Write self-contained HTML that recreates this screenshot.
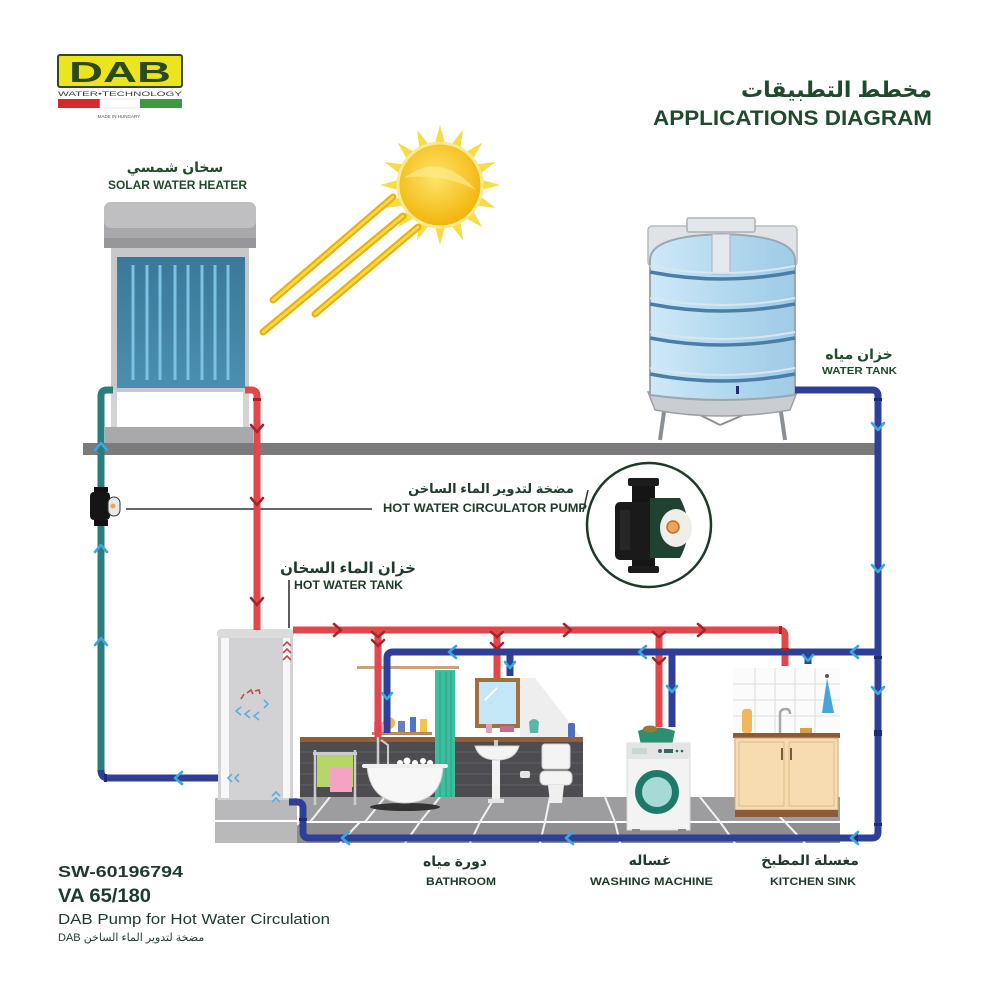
<!DOCTYPE html>
<html><head><meta charset="utf-8">
<style>
html,body{margin:0;padding:0;background:#fff;}
svg{display:block;}
text{font-family:"Liberation Sans","DejaVu Sans",sans-serif;}
.ar{font-weight:bold;}
</style></head><body>
<svg width="1000" height="1000" viewBox="0 0 1000 1000" xmlns="http://www.w3.org/2000/svg">
<defs>
<radialGradient id="sunG" cx="0.45" cy="0.4" r="0.6">
<stop offset="0" stop-color="#fde66a"/><stop offset="1" stop-color="#f2b30a"/>
</radialGradient>
<linearGradient id="panelG" x1="0" y1="0" x2="0" y2="1">
<stop offset="0" stop-color="#3a7898"/><stop offset="1" stop-color="#4b8fb0"/>
</linearGradient>
<linearGradient id="tankG" x1="0" y1="0" x2="1" y2="0">
<stop offset="0" stop-color="#cfe9f7"/><stop offset="0.5" stop-color="#b3d9ef"/><stop offset="1" stop-color="#9fcbe6"/>
</linearGradient>
</defs>
<rect width="1000" height="1000" fill="#fff"/>

<!-- DAB logo -->
<rect x="58" y="55" width="124" height="32" rx="2" fill="#ece51d" stroke="#2f4a23" stroke-width="2"/>
<text x="120" y="82" font-size="29" font-weight="900" text-anchor="middle" fill="#2b4a1d" textLength="102" lengthAdjust="spacingAndGlyphs">DAB</text>
<text x="58" y="96" font-size="6.5" fill="#3a3a3a" textLength="124" lengthAdjust="spacingAndGlyphs">WATER•TECHNOLOGY</text>
<rect x="58" y="99" width="42" height="9" fill="#d7282f"/>
<rect x="100" y="99" width="40" height="9" fill="#fff" stroke="#ddd" stroke-width="0.6"/>
<rect x="140" y="99" width="42" height="9" fill="#3c9a45"/>
<text x="119" y="118" font-size="4.5" fill="#555" text-anchor="middle">MADE IN HUNGARY</text>

<!-- Title -->
<text class="ar" x="932" y="97" font-size="22" fill="#1f4a2c" text-anchor="end">مخطط التطبيقات</text>
<text x="653" y="125" font-size="21" font-weight="bold" fill="#1f4a2c" textLength="279" lengthAdjust="spacingAndGlyphs">APPLICATIONS DIAGRAM</text>

<!-- Solar label -->
<text class="ar" x="175" y="172" font-size="14" fill="#1f4a2c" text-anchor="middle">سخان شمسي</text>
<text x="108" y="189" font-size="12" font-weight="bold" fill="#1f4a2c" textLength="139" lengthAdjust="spacingAndGlyphs">SOLAR WATER HEATER</text>

<!-- Sun -->
<g fill="#f7dc45">
<polygon points="434,147 446,147 440,125" transform="rotate(0 440 185)"/>
<polygon points="434,147 446,147 440,125" transform="rotate(22.5 440 185)"/>
<polygon points="434,147 446,147 440,125" transform="rotate(45 440 185)"/>
<polygon points="434,147 446,147 440,125" transform="rotate(67.5 440 185)"/>
<polygon points="434,147 446,147 440,125" transform="rotate(90 440 185)"/>
<polygon points="434,147 446,147 440,125" transform="rotate(112.5 440 185)"/>
<polygon points="434,147 446,147 440,125" transform="rotate(135 440 185)"/>
<polygon points="434,147 446,147 440,125" transform="rotate(157.5 440 185)"/>
<polygon points="434,147 446,147 440,125" transform="rotate(180 440 185)"/>
<polygon points="434,147 446,147 440,125" transform="rotate(202.5 440 185)"/>
<polygon points="434,147 446,147 440,125" transform="rotate(225 440 185)"/>
<polygon points="434,147 446,147 440,125" transform="rotate(247.5 440 185)"/>
<polygon points="434,147 446,147 440,125" transform="rotate(270 440 185)"/>
<polygon points="434,147 446,147 440,125" transform="rotate(292.5 440 185)"/>
<polygon points="434,147 446,147 440,125" transform="rotate(315 440 185)"/>
<polygon points="434,147 446,147 440,125" transform="rotate(337.5 440 185)"/>
</g>
<g stroke-linecap="round">
<line x1="273" y1="300" x2="393" y2="197" stroke="#eab20c" stroke-width="7"/>
<line x1="263" y1="332" x2="403" y2="216" stroke="#eab20c" stroke-width="7"/>
<line x1="315" y1="314" x2="418" y2="227" stroke="#eab20c" stroke-width="7"/>
<line x1="273" y1="300" x2="393" y2="197" stroke="#f9d94e" stroke-width="2.5"/>
<line x1="263" y1="332" x2="403" y2="216" stroke="#f9d94e" stroke-width="2.5"/>
<line x1="315" y1="314" x2="418" y2="227" stroke="#f9d94e" stroke-width="2.5"/>
</g>
<circle cx="440" cy="185" r="42" fill="url(#sunG)" stroke="#fbe98e" stroke-width="3"/>
<path d="M404,178 Q440,150 476,190 Q440,172 404,178 Z" fill="#fde98a" opacity="0.7"/>

<!-- Solar heater -->
<rect x="111" y="244" width="138" height="148" fill="#c8c8ca"/>
<rect x="117" y="257" width="128" height="131" fill="url(#panelG)"/>
<g stroke="#7cc2e4" stroke-width="3">
<line x1="133" y1="265" x2="133" y2="380"/><line x1="147" y1="265" x2="147" y2="380"/>
<line x1="160" y1="265" x2="160" y2="380"/><line x1="175" y1="265" x2="175" y2="380"/>
<line x1="188" y1="265" x2="188" y2="380"/><line x1="202" y1="265" x2="202" y2="380"/>
<line x1="215" y1="265" x2="215" y2="380"/><line x1="228" y1="265" x2="228" y2="380"/>
</g>
<rect x="104" y="202" width="152" height="46" rx="7" fill="#a8a8aa"/>
<rect x="104" y="202" width="152" height="26" rx="7" fill="#bfbfc1"/>
<rect x="104" y="238" width="152" height="10" fill="#96969a"/>
<rect x="111" y="390" width="6" height="38" fill="#d4d4d6"/>
<rect x="243" y="390" width="6" height="38" fill="#d4d4d6"/>
<rect x="105" y="427" width="148" height="16" fill="#a9a9ab"/>

<!-- Water tank -->
<rect x="648" y="226" width="149" height="40" rx="4" fill="#dfe2e6" stroke="#b5bbc2" stroke-width="1.5"/>
<rect x="687" y="218" width="68" height="14" rx="2" fill="#e4e7ea" stroke="#a9b0b7" stroke-width="1.5"/>
<line x1="665" y1="405" x2="660" y2="440" stroke="#8a8f95" stroke-width="4"/>
<line x1="780" y1="405" x2="785" y2="440" stroke="#8a8f95" stroke-width="4"/>
<line x1="690" y1="410" x2="720" y2="425" stroke="#8a8f95" stroke-width="2"/>
<line x1="755" y1="410" x2="720" y2="425" stroke="#8a8f95" stroke-width="2"/>
<path d="M648,392 L797,392 L790,410 Q720,422 655,410 Z" fill="#c9cdd2" stroke="#9aa1a8" stroke-width="1.5"/>
<path d="M650,260 Q650,236 722,234 Q795,236 795,260 L795,395 Q722,405 650,395 Z" fill="url(#tankG)" stroke="#9aa6b0" stroke-width="2"/>
<rect x="712" y="234" width="18" height="40" fill="#e4e8ec" stroke="#aab2ba" stroke-width="1"/>
<g fill="none" stroke="#4a7ea8" stroke-width="3.5">
<path d="M650,272 Q722,286 795,272"/>
<path d="M650,304 Q722,318 795,304"/>
<path d="M650,338 Q722,352 795,338"/>
<path d="M650,374 Q722,388 795,374"/>
</g>
<g fill="none" stroke="#d7e6ef" stroke-width="2">
<path d="M650,266 Q722,280 795,266"/>
<path d="M650,298 Q722,312 795,298"/>
<path d="M650,332 Q722,346 795,332"/>
<path d="M650,368 Q722,382 795,368"/>
</g>
<text class="ar" x="859" y="359" font-size="14" fill="#1f4a2c" text-anchor="middle">خزان مياه</text>
<text x="822" y="374" font-size="10.5" font-weight="bold" fill="#1f4a2c" textLength="75" lengthAdjust="spacingAndGlyphs">WATER TANK</text>

<!-- Pump label -->
<text class="ar" x="491" y="493" font-size="13" fill="#1f3a2a" text-anchor="middle">مضخة لتدوير الماء الساخن</text>
<text x="383" y="512" font-size="12" font-weight="bold" fill="#1f3a2a" textLength="204" lengthAdjust="spacingAndGlyphs">HOT WATER CIRCULATOR PUMP</text>
<line x1="126" y1="509" x2="372" y2="509" stroke="#333" stroke-width="1.6"/>
<line x1="588" y1="490" x2="583" y2="512" stroke="#1d3a26" stroke-width="1.5"/>

<!-- Pump circle -->
<circle cx="649" cy="525" r="62" fill="#fff" stroke="#1d3a26" stroke-width="2.5"/>
<rect x="632" y="478" width="23" height="28" rx="3" fill="#151515"/>
<rect x="628" y="478" width="31" height="8" rx="2" fill="#1c1c1c"/>
<rect x="632" y="556" width="23" height="16" rx="3" fill="#151515"/>
<rect x="628" y="566" width="31" height="7" rx="2" fill="#1c1c1c"/>
<rect x="615" y="502" width="40" height="58" rx="5" fill="#1a1a1a"/>
<rect x="620" y="510" width="10" height="40" fill="#262626"/>
<path d="M650,498 L680,498 Q696,528 680,558 L650,558 Z" fill="#1f4232"/>
<ellipse cx="676" cy="528" rx="16" ry="19" fill="#efefea"/>
<circle cx="673" cy="527" r="6" fill="#f0a35a" stroke="#c66d22" stroke-width="1.5"/>

<!-- Hot water tank label -->
<text class="ar" x="348" y="573" font-size="15" fill="#1f3a2a" text-anchor="middle">خزان الماء السخان</text>
<text x="294" y="589" font-size="11.5" font-weight="bold" fill="#1f3a2a" textLength="109" lengthAdjust="spacingAndGlyphs">HOT WATER TANK</text>
<line x1="289" y1="580" x2="289" y2="628" stroke="#333" stroke-width="1.6"/>

<!-- Floor -->
<rect x="300" y="797" width="540" height="25" fill="#9d9da0"/>
<rect x="215" y="822" width="625" height="21" fill="#8e8e91"/>
<line x1="215" y1="822" x2="840" y2="822" stroke="#fff" stroke-width="2"/>
<g stroke="#f2f2f2" stroke-width="2">
<line x1="330" y1="797" x2="310" y2="822"/><line x1="385" y1="797" x2="365" y2="822"/>
<line x1="440" y1="797" x2="420" y2="822"/><line x1="495" y1="797" x2="480" y2="822"/>
<line x1="550" y1="797" x2="545" y2="822"/><line x1="605" y1="797" x2="615" y2="822"/>
<line x1="700" y1="797" x2="720" y2="822"/><line x1="760" y1="797" x2="785" y2="822"/>
<line x1="300" y1="822" x2="275" y2="843"/><line x1="360" y1="822" x2="340" y2="843"/>
<line x1="420" y1="822" x2="405" y2="843"/><line x1="480" y1="822" x2="470" y2="843"/>
<line x1="545" y1="822" x2="540" y2="843"/><line x1="615" y1="822" x2="620" y2="843"/>
<line x1="720" y1="822" x2="735" y2="843"/><line x1="785" y1="822" x2="805" y2="843"/>
</g>

<!-- Hot water tank -->
<rect x="215" y="798" width="82" height="45" fill="#b9b9bc"/>
<rect x="215" y="820" width="82" height="2" fill="#fff"/>
<rect x="218" y="636" width="75" height="164" fill="#d2d2d4"/>
<rect x="221" y="638" width="8" height="160" fill="#f7f7f7"/>
<rect x="283" y="638" width="7" height="160" fill="#f7f7f7"/>
<rect x="217" y="629" width="77" height="9" rx="4" fill="#dcdcdd"/>
<g fill="none" stroke="#c4474d" stroke-width="1.6">
<path d="M283,646 L287,642 L291,646"/><path d="M283,653 L287,649 L291,653"/><path d="M283,660 L287,656 L291,660"/>
<path d="M241,699 L244,694"/><path d="M247,693 L251,690 L253,694"/><path d="M255,691 L259,690 L260,694"/>
</g>
<g fill="none" stroke="#5aaee0" stroke-width="1.6">
<path d="M241,707 L236,711 L241,715"/><path d="M250,710 L245,714 L250,718"/><path d="M259,712 L254,716 L259,720"/>
<path d="M264,700 L268,704 L264,708"/>
<path d="M232,774 L228,778 L232,782"/><path d="M239,774 L235,778 L239,782"/>
<path d="M272,796 L276,792 L280,796"/><path d="M272,802 L276,798 L280,802"/>
</g>

<!-- Bathroom wall -->
<polygon points="520,678 535,678 583,740 520,740" fill="#eeeeee"/>
<rect x="300" y="742" width="283" height="55" fill="#4c4c51"/>
<g stroke="#5f5f65" stroke-width="1">
<line x1="300" y1="752" x2="583" y2="752"/><line x1="300" y1="763" x2="583" y2="763"/>
<line x1="300" y1="774" x2="583" y2="774"/><line x1="300" y1="785" x2="583" y2="785"/>
</g>
<rect x="300" y="737" width="283" height="5" fill="#8f5e3d"/>
<!-- shelf & bottles -->
<rect x="372" y="732" width="60" height="3" fill="#b88a5c"/>
<rect x="374" y="722" width="9" height="10" fill="#f2a0c0"/>
<circle cx="389" cy="723" r="6" fill="#f3b34a"/>
<rect x="398" y="721" width="7" height="11" fill="#6a7fb8"/>
<rect x="410" y="717" width="6" height="15" fill="#4b78c4"/>
<rect x="420" y="719" width="7" height="13" fill="#f2c64e"/>
<!-- curtain rod & curtain -->
<rect x="357" y="666" width="102" height="3" fill="#c8a27a"/>
<rect x="435" y="670" width="20" height="127" fill="#3bbf9e"/>
<g stroke="#2c9c80" stroke-width="1"><line x1="440" y1="672" x2="440" y2="797"/><line x1="446" y1="672" x2="446" y2="797"/><line x1="451" y1="672" x2="451" y2="797"/></g>
<!-- mirror -->
<rect x="475" y="678" width="45" height="50" fill="#a36f3a"/>
<rect x="479" y="682" width="37" height="42" fill="#c3e7f6"/>
<line x1="485" y1="700" x2="497" y2="688" stroke="#fff" stroke-width="2"/>
<rect x="486" y="724" width="6" height="9" fill="#e0a0c0"/>
<rect x="500" y="726" width="14" height="6" fill="#c86a8a"/>
<path d="M530,733 L529,722 Q534,716 539,722 L538,733 Z" fill="#58b7a6"/>
<rect x="568" y="723" width="7" height="15" rx="2" fill="#4d6fbf"/>
<!-- towel rack -->
<rect x="313" y="752" width="44" height="3" fill="#ccc"/>
<line x1="315" y1="750" x2="315" y2="805" stroke="#ccc" stroke-width="2.5"/>
<line x1="355" y1="750" x2="355" y2="805" stroke="#ccc" stroke-width="2.5"/>
<rect x="317" y="755" width="36" height="32" fill="#b7d66a"/>
<rect x="330" y="768" width="22" height="24" fill="#f4a3c4"/>
<!-- bathtub -->
<line x1="378" y1="737" x2="378" y2="768" stroke="#ccc" stroke-width="2.5"/>
<path d="M381,740 L388,745 L388,768" fill="none" stroke="#ccc" stroke-width="2"/>
<g fill="#fff"><circle cx="400" cy="763" r="3"/><circle cx="407" cy="761" r="3.5"/><circle cx="415" cy="763" r="3"/><circle cx="423" cy="761" r="3"/><circle cx="430" cy="763" r="3"/></g>
<ellipse cx="405" cy="807" rx="35" ry="4" fill="#333"/>
<path d="M367,766 L443,766 Q442,802 405,803 Q370,802 367,766 Z" fill="#f7f7f7" stroke="#cfcfcf" stroke-width="1"/>
<rect x="362" y="764" width="86" height="4" rx="2" fill="#efefef"/>
<!-- sink -->
<rect x="492" y="755" width="8" height="46" fill="#f2f2f2"/>
<rect x="488" y="799" width="16" height="4" fill="#e5e5e5"/>
<path d="M475,746 L519,746 Q515,760 497,760 Q479,760 475,746 Z" fill="#f4f4f4" stroke="#cfcfcf" stroke-width="1"/>
<rect x="494" y="740" width="4" height="6" fill="#ccc"/>
<rect x="520" y="771" width="10" height="7" rx="2" fill="#e5e5e5"/>
<!-- toilet -->
<rect x="542" y="744" width="28" height="25" rx="3" fill="#f4f4f4" stroke="#cfcfcf" stroke-width="1"/>
<rect x="540" y="771" width="32" height="14" rx="5" fill="#f4f4f4" stroke="#cfcfcf" stroke-width="1"/>
<path d="M548,785 L564,785 L562,803 L550,803 Z" fill="#efefef"/>

<!-- Washing machine -->
<path d="M638,731 Q656,724 675,731 L672,745 L641,745 Z" fill="#2c8e72"/>
<ellipse cx="650" cy="729" rx="7" ry="3.5" fill="#9a7a3a"/>
<rect x="627" y="743" width="63" height="87" fill="#f3f3f3" stroke="#d8d8d8" stroke-width="1"/>
<rect x="627" y="743" width="63" height="16" fill="#e4e4e4"/>
<rect x="632" y="748" width="15" height="6" fill="#c8d6d4"/>
<circle cx="660" cy="751" r="2" fill="#2c6a62"/>
<rect x="664" y="749" width="9" height="4" fill="#2c6a62"/>
<circle cx="677" cy="751" r="1.3" fill="#2c6a62"/><circle cx="682" cy="751" r="1.3" fill="#2c6a62"/>
<circle cx="657" cy="792" r="22" fill="#1e7a68"/>
<circle cx="657" cy="792" r="15" fill="#a7dad6"/>
<rect x="632" y="829" width="8" height="3" fill="#888"/><rect x="678" y="829" width="8" height="3" fill="#888"/>

<!-- Kitchen -->
<rect x="733" y="668" width="107" height="66" fill="#fbfbfb"/>
<g stroke="#d8dde0" stroke-width="1">
<line x1="755" y1="668" x2="755" y2="734"/><line x1="775" y1="668" x2="775" y2="734"/>
<line x1="795" y1="668" x2="795" y2="734"/><line x1="815" y1="668" x2="815" y2="734"/>
<line x1="733" y1="684" x2="840" y2="684"/><line x1="733" y1="700" x2="840" y2="700"/><line x1="733" y1="716" x2="840" y2="716"/>
</g>
<path d="M780,733 L780,714 Q780,709 786,709 Q790,709 790,714" fill="none" stroke="#a8a8a8" stroke-width="2.5"/>
<rect x="742" y="709" width="10" height="24" rx="3" fill="#f0b85a"/>
<rect x="800" y="728" width="12" height="5" fill="#d6a04a"/>
<circle cx="827" cy="676" r="2" fill="#555"/>
<path d="M827,678 L822,713 L834,713 Z" fill="#45a6d8"/>
<rect x="733" y="733" width="107" height="5" fill="#8b5a3c"/>
<rect x="735" y="738" width="103" height="72" fill="#f6dcb0" stroke="#caa77a" stroke-width="1"/>
<rect x="739" y="742" width="45" height="64" fill="none" stroke="#dcbc8c" stroke-width="1"/>
<rect x="789" y="742" width="45" height="64" fill="none" stroke="#dcbc8c" stroke-width="1"/>
<rect x="781" y="748" width="2" height="12" fill="#7a5a3a"/><rect x="790" y="748" width="2" height="12" fill="#7a5a3a"/>
<rect x="735" y="810" width="103" height="7" fill="#8d5a3a"/>

<!-- Gray floor bar -->
<rect x="83" y="443" width="792" height="12" fill="#7b7b7d"/>

<!-- Pipes -->
<g fill="none" stroke-width="7" stroke-linejoin="round">
<path d="M245,390 H251 Q257,390 257,396 V630" stroke="#e2474c"/>
<path d="M293,630 H779 Q785,630 785,636 V666" stroke="#e2474c"/>
<path d="M378,630 V737 M497,630 V678 M659,630 V727" stroke="#e2474c"/>
<path d="M795,390 H872 Q878,390 878,396 V832 Q878,838 872,838 H309 Q303,838 303,832 V808 Q303,802 297,802 H289" stroke="#2f3f98"/>
<path d="M878,652 H393 Q387,652 387,658 V733" stroke="#2f3f98"/>
<path d="M510,652 V676 M672,652 V727 M808,652 V664" stroke="#2f3f98"/>
<path d="M113,390 H107 Q101,390 101,396 V772" stroke="#2c7b7d"/>
<path d="M101,770 Q101,778 108,778 H218" stroke="#2f3f98"/>
</g>
<g fill="#1f2d70">
<rect x="736" y="386" width="3" height="8"/><rect x="874" y="398" width="8" height="3"/>
<rect x="874" y="823" width="8" height="3"/><rect x="855" y="834" width="3" height="8"/>
<rect x="299" y="818" width="8" height="3"/><rect x="104" y="774" width="3" height="8"/>
<rect x="874" y="656" width="8" height="3"/><rect x="874" y="730" width="8" height="6"/>
</g>
<g fill="#a3262c"><rect x="779" y="626" width="3" height="8"/><rect x="781" y="648" width="8" height="3"/><rect x="253" y="398" width="8" height="3"/></g>

<!-- Circulator pump on teal pipe -->
<rect x="94" y="487" width="14" height="5" fill="#111"/>
<rect x="90" y="492" width="20" height="28" rx="4" fill="#151515"/>
<rect x="94" y="520" width="14" height="6" fill="#111"/>
<rect x="108" y="497" width="12" height="19" rx="6" fill="#e9e9e6" stroke="#333" stroke-width="1"/>
<circle cx="113" cy="506" r="2.5" fill="#e8a36a"/>

<!-- Light blue arrows -->
<g fill="none" stroke="#3ba7df" stroke-width="2.6" stroke-linecap="round" stroke-linejoin="round">
<path d="M872,423 L878,430 L884,423"/><path d="M872,565 L878,572 L884,565"/><path d="M872,687 L878,694 L884,687"/>
<path d="M456,646 L449,652 L456,658"/><path d="M646,646 L639,652 L646,658"/><path d="M858,646 L851,652 L858,658"/>
<path d="M349,832 L342,838 L349,844"/><path d="M573,832 L566,838 L573,844"/><path d="M858,832 L851,838 L858,844"/>
<path d="M382,693 L387,699 L392,693"/><path d="M505,662 L510,668 L515,662"/><path d="M667,686 L672,692 L677,686"/><path d="M803,655 L808,661 L813,655"/>
<path d="M95,450 L101,443 L107,450"/><path d="M95,552 L101,545 L107,552"/><path d="M95,645 L101,638 L107,645"/>
<path d="M182,772 L175,778 L182,784"/>
</g>
<!-- Dark red arrows -->
<g fill="none" stroke="#a3262c" stroke-width="2.6" stroke-linecap="round" stroke-linejoin="round">
<path d="M251,425 L257,432 L263,425"/><path d="M251,498 L257,505 L263,498"/><path d="M251,598 L257,605 L263,598"/>
<path d="M334,624 L341,630 L334,636"/><path d="M564,624 L571,630 L564,636"/><path d="M698,624 L705,630 L698,636"/>
<path d="M372,640 L378,646 L384,640"/><path d="M491,643 L497,649 L503,643"/><path d="M653,658 L659,664 L665,658"/>
<path d="M372,632 L378,637 L384,632"/><path d="M491,632 L497,637 L503,632"/><path d="M653,632 L659,637 L665,632"/>
</g>

<!-- Bottom labels -->
<text class="ar" x="455" y="866" font-size="14" fill="#1f3a2a" text-anchor="middle">دورة مياه</text>
<text x="426" y="885" font-size="11" font-weight="bold" fill="#1f3a2a" textLength="70" lengthAdjust="spacingAndGlyphs">BATHROOM</text>
<text class="ar" x="650" y="865" font-size="14" fill="#1f3a2a" text-anchor="middle">غساله</text>
<text x="590" y="885" font-size="11" font-weight="bold" fill="#1f3a2a" textLength="123" lengthAdjust="spacingAndGlyphs">WASHING MACHINE</text>
<text class="ar" x="810" y="865" font-size="14" fill="#1f3a2a" text-anchor="middle">مغسلة المطبخ</text>
<text x="770" y="885" font-size="11" font-weight="bold" fill="#1f3a2a" textLength="86" lengthAdjust="spacingAndGlyphs">KITCHEN SINK</text>

<!-- Bottom-left product text -->
<text x="58" y="877" font-size="16" font-weight="bold" fill="#1e3a2e" textLength="125" lengthAdjust="spacingAndGlyphs">SW-60196794</text>
<text x="58" y="902" font-size="19" font-weight="bold" fill="#1e3a2e" textLength="93" lengthAdjust="spacingAndGlyphs">VA 65/180</text>
<text x="58" y="924" font-size="15" fill="#1e3a2e" textLength="272" lengthAdjust="spacingAndGlyphs">DAB Pump for Hot Water Circulation</text>
<text x="58" y="941" font-size="11" fill="#1e3a2e">DAB مضخة لتدوير الماء الساخن</text>
</svg>
</body></html>
